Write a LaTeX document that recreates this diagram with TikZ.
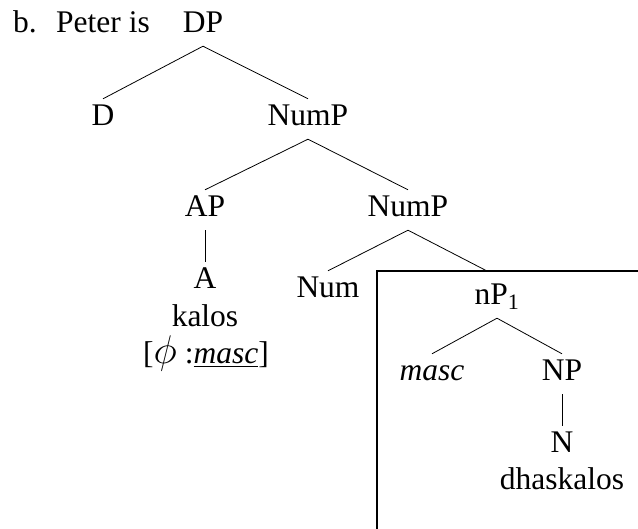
\RequirePackage{fix-cm}
\documentclass[tikz,border=0pt]{standalone}
\usepackage{fontspec}
\setmainfont{Liberation Serif}
\begin{document}
\begin{tikzpicture}[x=1pt,y=-1pt,
        every node/.style={font=\fontsize{31.5}{38}\selectfont},
        cat/.style={anchor=base,inner xsep=1pt,inner ysep=6pt,text height=21pt,text depth=7pt},
        word/.style={anchor=base,inner sep=0pt},
        branch/.style={line width=0.8pt},
        frame/.style={line width=2pt}]
                \useasboundingbox (0,0) rectangle (638,529);
                %% example label
                \node[word,anchor=base west] (ex) at (13,33) {b.};
                \node[word,anchor=base west] (peter) at (56,33) {Peter is};
                %% DP
                \node[cat] (dp) at (203,33) {DP};
                \node[cat] (d) at (103,126) {D};
                \node[cat] (nump) at (308,126) {NumP};
                \draw[branch] (dp.south) -- (d.north);
                \draw[branch] (dp.south) -- (nump.north);
                %% adjective
                \node[cat] (ap) at (205,217) {AP};
                \node[cat] (a) at (205,289) {A};
                \node[word] (kalos) at (205,327) {kalos};
                \node[word] (feat) at (206,364) {[\scalebox{1.27}{$\phi$} :\underline{\textit{masc}}]};
                \draw[branch] (nump.south) -- (ap.north);
                \draw[branch] (ap.south) -- (a.north);
                %% lower NumP
                \node[cat] (nump2) at (408,217) {NumP};
                \node[cat] (num) at (328,298) {Num};
                \coordinate (boxtop) at (487,271);
                \draw[branch] (nump.south) -- (nump2.north);
                \draw[branch] (nump2.south) -- (num.north);
                \draw[branch] (nump2.south) -- (boxtop);
                %% boxed nP
                \draw[frame] (377,529) -- (377,271) -- (638,271);
                \node[cat] (np1) at (497,305) {nP\textsubscript{1}};
                \node[cat] (masc) at (432,381) {\textit{masc}};
                \node[cat] (np) at (562,381) {NP};
                \node[cat] (n) at (562,453) {N};
                \node[word] (dhask) at (562,490) {dhaskalos};
                \draw[branch] (np1.south) -- (masc.north);
                \draw[branch] (np1.south) -- (np.north);
                \draw[branch] (np.south) -- (n.north);
\end{tikzpicture}
\end{document}
